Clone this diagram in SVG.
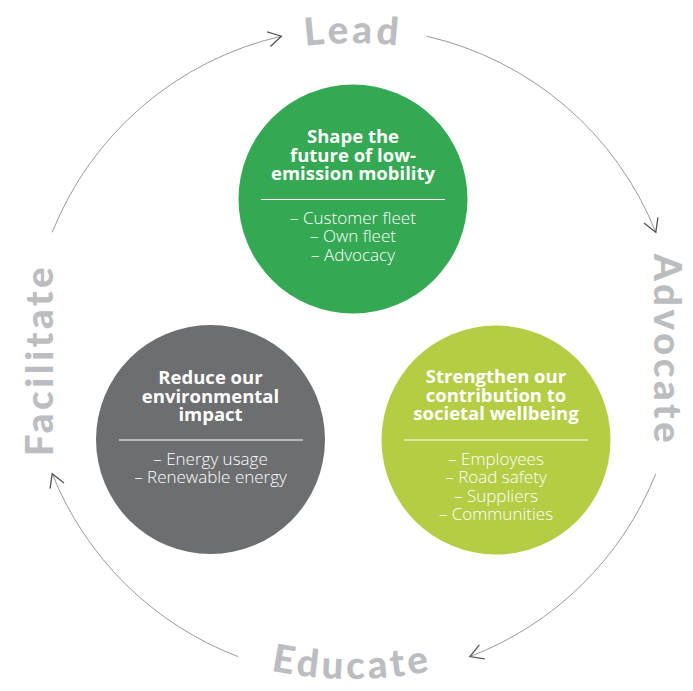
<svg xmlns="http://www.w3.org/2000/svg" width="693" height="691" viewBox="0 0 693 691">
<style>
.lbl{font-family:"Lato","Open Sans","Liberation Sans",sans-serif;font-weight:900;font-size:38.5px;fill:#bcbdc0;letter-spacing:3.6px}
.mid{text-anchor:middle}
.ttl{font-family:"Open Sans","Liberation Sans",sans-serif;font-weight:700;font-size:18.5px;fill:#ffffff;text-anchor:middle}
.itm{font-family:"Open Sans","Liberation Sans",sans-serif;font-weight:300;font-size:17px;fill:#ffffff;text-anchor:middle}
.div{stroke:#ffffff;stroke-width:1.2}
.arc{fill:none;stroke:#9a9a9a;stroke-width:1;marker-end:url(#chev)}
</style>
<defs>
<marker id="chev" markerUnits="userSpaceOnUse" markerWidth="30" markerHeight="30" refX="0" refY="0" orient="auto" overflow="visible">
<path d="M-13,-7.5 L0,0 L-13,7.5" fill="none" stroke="#555555" stroke-width="1.3"/>
</marker>
<path id="pLead" d="M-47,443 A400,400 0 0 1 753,443"/>
<path id="pEdu" d="M-48,279 A400,400 0 0 0 752,279"/>
</defs>
<g id="connectors">
<path class="arc" d="M52.2,232.3 A325,325 0 0 1 281.4,36.2"/>
<path class="arc" d="M426.6,36.2 A325,325 0 0 1 655.8,232.3"/>
<path class="arc" d="M655.8,473.7 A325,325 0 0 1 469.9,656.6"/>
<path class="arc" d="M238.1,656.6 A325,325 0 0 1 52.2,473.7"/>
</g>
<g id="labels">
<text class="lbl"><textPath href="#pLead" startOffset="50%" text-anchor="middle">Lead</textPath></text>
<text class="lbl mid" transform="translate(654,350) rotate(90)" x="0" y="0">Advocate</text>
<text class="lbl mid" transform="translate(53,360) rotate(-90)" x="0" y="0">Facilitate</text>
<text class="lbl"><textPath href="#pEdu" startOffset="50%" text-anchor="middle">Educate</textPath></text>
</g>
<g id="node-shape">
<circle cx="353" cy="199" r="114.5" fill="#34a853"/>
<text class="ttl" x="353" y="143">Shape the</text>
<text class="ttl" x="353" y="161.5">future of low-</text>
<text class="ttl" x="353" y="180">emission mobility</text>
<line class="div" x1="261" y1="199.5" x2="445" y2="199.5"/>
<text class="itm" x="353" y="224">– Customer fleet</text>
<text class="itm" x="353" y="242.4">– Own fleet</text>
<text class="itm" x="353" y="260.8">– Advocacy</text>
</g>
<g id="node-reduce">
<circle cx="210.5" cy="439.5" r="114.5" fill="#6d6e70"/>
<text class="ttl" x="210.5" y="384">Reduce our</text>
<text class="ttl" x="210.5" y="402.5">environmental</text>
<text class="ttl" x="210.5" y="421">impact</text>
<line class="div" x1="119" y1="440" x2="303" y2="440"/>
<text class="itm" x="210.5" y="465">– Energy usage</text>
<text class="itm" x="210.5" y="483.4">– Renewable energy</text>
</g>
<g id="node-strengthen">
<circle cx="496" cy="440" r="114.5" fill="#b5cc45"/>
<text class="ttl" x="496" y="383">Strengthen our</text>
<text class="ttl" x="496" y="401.5">contribution to</text>
<text class="ttl" x="496" y="420">societal wellbeing</text>
<line class="div" x1="404" y1="440" x2="588" y2="440"/>
<text class="itm" x="496" y="465">– Employees</text>
<text class="itm" x="496" y="483.4">– Road safety</text>
<text class="itm" x="496" y="501.8">– Suppliers</text>
<text class="itm" x="496" y="520.2">– Communities</text>
</g>
</svg>
